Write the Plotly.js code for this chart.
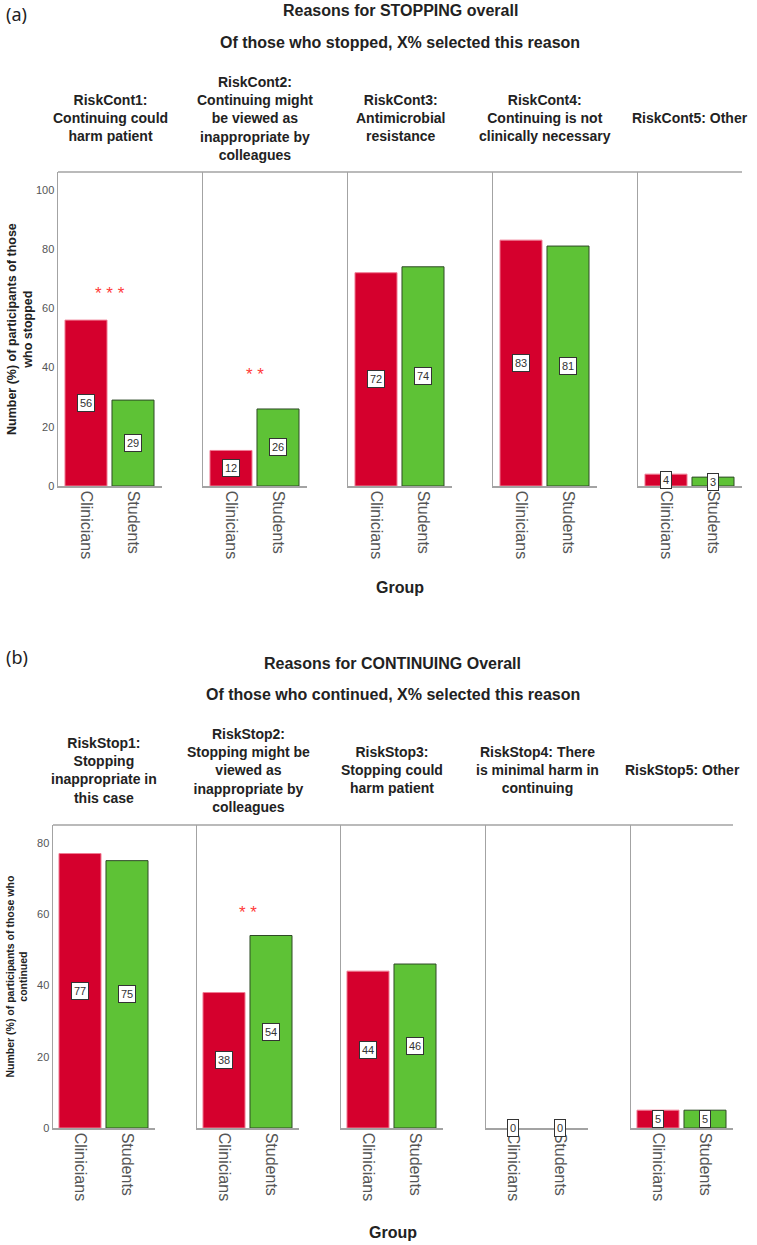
<!DOCTYPE html>
<html>
<head>
<meta charset="utf-8">
<script src="https://cdn.plot.ly/plotly-3.0.1.min.js"></script>
<style>html,body{margin:0;padding:0;background:#fff;}#chart{width:757px;height:1245px;}</style>
</head>
<body>
<div id="chart"></div>
<script>
// ---------- DATA ----------
const groups = ['Clinicians', 'Students'];

const stopTitle = 'Reasons for STOPPING overall';
const stopSubtitle = 'Of those who stopped, X% selected this reason';
const stopReasons = [
  'RiskCont1:<br>Continuing could<br>harm patient',
  'RiskCont2:<br>Continuing might<br>be viewed as<br>inappropriate by<br>colleagues',
  'RiskCont3:<br>Antimicrobial<br>resistance',
  'RiskCont4:<br>Continuing is not<br>clinically necessary',
  'RiskCont5: Other'
];
const stopClinicians = [56, 12, 72, 83, 4];
const stopStudents = [29, 26, 74, 81, 3];
const stopSig = ['* * *', '* *', '', '', ''];
const stopSigLevel = [65, 37.5, 0, 0, 0];
const stopYTitle = 'Number (%) of participants of those<br>who stopped';
const stopYTicks = [0, 20, 40, 60, 80, 100];

const contTitle = 'Reasons for CONTINUING Overall';
const contSubtitle = 'Of those who continued, X% selected this reason';
const contReasons = [
  'RiskStop1:<br>Stopping<br>inappropriate in<br>this case',
  'RiskStop2:<br>Stopping might be<br>viewed as<br>inappropriate by<br>colleagues',
  'RiskStop3:<br>Stopping could<br>harm patient',
  'RiskStop4: There<br>is minimal harm in<br>continuing',
  'RiskStop5: Other'
];
const contClinicians = [77, 38, 44, 0, 5];
const contStudents = [75, 54, 46, 0, 5];
const contSig = ['', '* *', '', '', ''];
const contSigLevel = [0, 60.4, 0, 0, 0];
const contYTitle = 'Number (%) of participants of those who<br>continued';
const contYTicks = [0, 20, 40, 60, 80];

const xAxisTitle = 'Group';

// ---------- STYLE ----------
const W = 757, H = 1245;
const RED = '#d5002d', RED_EDGE = '#f07c94';
const GREEN = '#5ec236', GREEN_EDGE = '#2e4a26';
const AXIS = '#a3a3a3';
const FONT = 'Liberation Sans, Arial, sans-serif';

const px = v => v / W;
const py = v => 1 - v / H;

const panels = [
  {reasons: stopReasons, c: stopClinicians, s: stopStudents, sig: stopSig, sigY: stopSigLevel,
   lefts: [58, 203, 348, 493, 638], width: 104, top: 172, bottom: 486, yMax: 106,
   redC: 28, greenC: 75, yTicks: stopYTicks, yTitle: stopYTitle, yTitleSize: 12.5, yTitleX: 20,
   title: stopTitle, subtitle: stopSubtitle, titleY: 11, subY: 42, headY: 118, groupY: 588,
   letter: '(a)', letterY: 14, axisOffset: 0},
  {reasons: contReasons, c: contClinicians, s: contStudents, sig: contSig, sigY: contSigLevel,
   lefts: [53, 197, 341, 486, 631], width: 102, top: 825, bottom: 1128, yMax: 85,
   redC: 27, greenC: 74, yTicks: contYTicks, yTitle: contYTitle, yTitleSize: 10.5, yTitleX: 16,
   title: contTitle, subtitle: contSubtitle, titleY: 663, subY: 694, headY: 770, groupY: 1232,
   letter: '(b)', letterY: 657, axisOffset: 5}
];

const traces = [];
const layout = {
  width: W, height: H,
  margin: {l: 0, r: 0, t: 0, b: 0},
  paper_bgcolor: '#fff', plot_bgcolor: 'rgba(0,0,0,0)',
  showlegend: false,
  font: {family: FONT, color: '#333'},
  annotations: [], shapes: []
};

panels.forEach((P, pi) => {
  const spacing = P.greenC - P.redC;
  const xr = [-P.redC / spacing, 1 + (P.width - P.greenC) / spacing];
  P.reasons.forEach((reason, i) => {
    const n = P.axisOffset + i + 1;
    const xa = 'x' + (n === 1 ? '' : n), ya = 'y' + (n === 1 ? '' : n);
    const xk = 'xaxis' + (n === 1 ? '' : n), yk = 'yaxis' + (n === 1 ? '' : n);
    const vals = [P.c[i], P.s[i]];
    traces.push({
      type: 'bar', x: groups, y: vals, xaxis: xa, yaxis: ya,
      width: 0.894,
      marker: {color: [RED, GREEN],
               line: {color: [RED_EDGE, GREEN_EDGE], width: vals.map(v => v > 0 ? 1 : 0)}},
      hoverinfo: 'x+y'
    });
    const L = P.lefts[i];
    layout[xk] = {
      domain: [px(L), px(L + P.width)], anchor: ya,
      type: 'category', range: xr, fixedrange: true,
      showline: true, linecolor: AXIS, linewidth: 1.5,
      showgrid: false, zeroline: false, ticks: '',
      tickangle: 90, tickfont: {family: FONT, size: 16, color: '#555'}
    };
    layout[yk] = {
      domain: [py(P.bottom), py(P.top)], anchor: xa,
      range: [0, P.yMax], fixedrange: true,
      showline: true, linecolor: AXIS, linewidth: 1.5,
      showgrid: false, zeroline: false, ticks: '',
      tickvals: P.yTicks, showticklabels: i === 0,
      tickfont: {family: FONT, size: 11, color: '#555'}
    };
    // reason header
    layout.annotations.push({
      xref: xa + ' domain', yref: 'paper', x: 0.5, y: py(P.headY),
      xanchor: 'center', yanchor: 'middle', showarrow: false,
      text: '<b>' + reason + '</b>', align: 'center',
      font: {family: FONT, size: 14, color: '#222'}
    });
    // value labels
    vals.forEach((v, j) => {
      layout.annotations.push({
        xref: xa, yref: ya, x: groups[j], y: v / 2,
        xanchor: 'center', yanchor: 'middle', showarrow: false,
        text: String(v), font: {family: FONT, size: 11, color: '#333'},
        bgcolor: '#fff', bordercolor: '#333', borderwidth: 1, borderpad: 2
      });
    });
    // significance stars
    if (P.sig[i]) {
      layout.annotations.push({
        xref: xa, yref: ya, x: 0.5, y: P.sigY[i],
        xanchor: 'center', yanchor: 'middle', showarrow: false,
        text: P.sig[i], font: {family: FONT, size: 17, color: '#ff3b3b'}
      });
    }
  });
  // top frame line
  layout.shapes.push({
    type: 'line', xref: 'paper', yref: 'paper',
    x0: px(P.lefts[0]), x1: px(P.lefts[4] + P.width), y0: py(P.top), y1: py(P.top),
    line: {color: AXIS, width: 1.5}
  });
  // titles
  const cx = px((P.lefts[0] + P.lefts[4] + P.width) / 2);
  layout.annotations.push({
    xref: 'paper', yref: 'paper', x: cx, y: py(P.titleY), xanchor: 'center', yanchor: 'middle',
    showarrow: false, text: '<b>' + P.title + '</b>', font: {family: FONT, size: 16, color: '#222'}
  });
  layout.annotations.push({
    xref: 'paper', yref: 'paper', x: cx, y: py(P.subY), xanchor: 'center', yanchor: 'middle',
    showarrow: false, text: '<b>' + P.subtitle + '</b>', font: {family: FONT, size: 16, color: '#222'}
  });
  layout.annotations.push({
    xref: 'paper', yref: 'paper', x: cx, y: py(P.groupY), xanchor: 'center', yanchor: 'middle',
    showarrow: false, text: '<b>' + xAxisTitle + '</b>', font: {family: FONT, size: 16, color: '#222'}
  });
  layout.annotations.push({
    xref: 'paper', yref: 'paper', x: px(4), y: py(P.letterY), xanchor: 'left', yanchor: 'middle',
    showarrow: false, text: P.letter, font: {family: 'Noto Sans, DejaVu Sans, sans-serif', size: 18, color: '#222'}
  });
  layout.annotations.push({
    xref: 'paper', yref: 'paper', x: px(P.yTitleX), y: py((P.top + P.bottom) / 2),
    xanchor: 'center', yanchor: 'middle', textangle: -90, showarrow: false,
    text: '<b>' + P.yTitle + '</b>', font: {family: FONT, size: P.yTitleSize, color: '#222'}
  });
});

Plotly.newPlot('chart', traces, layout, {displayModeBar: false, staticPlot: true});
</script>
</body>
</html>
